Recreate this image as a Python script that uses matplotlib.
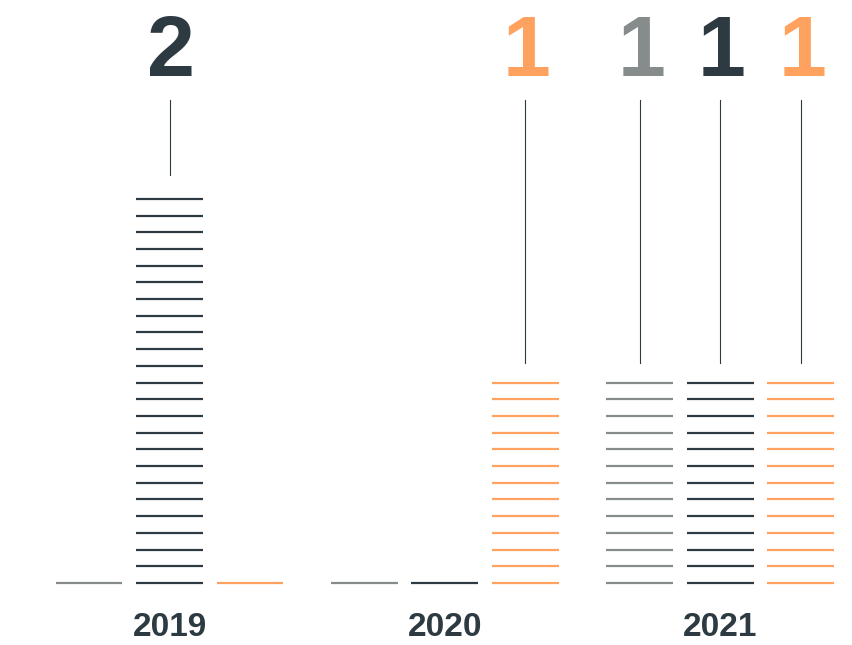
import matplotlib
matplotlib.use("Agg")
import matplotlib.pyplot as plt

# Data
years = ["2019", "2020", "2021"]
series_names = ["Grey", "Dark", "Orange"]
series_colors = ["#868b8c", "#2e3a41", "#ffa15f"]
values = {
    "Grey":   [0, 0, 1],
    "Dark":   [2, 0, 1],
    "Orange": [0, 1, 1],
}

# Geometry (in axis units)
group_step = 3.42
bar_step = 1.0
bar_width = 0.83
rung = 1 / 11.25          # spacing between stacked rungs
base = -0.0756            # baseline rung position
leader_gap = 1.05 * rung
leader_top = 2.495
label_y = 2.621
year_y = -0.3576

fig = plt.figure(figsize=(8.53, 6.45), dpi=100)
ax = fig.add_axes([0, 0, 1, 1])
ax.set_xlim(-2.106, 8.491)
ax.set_ylim(-0.4055, 3.027)
ax.axis("off")

font = "Liberation Sans"

for gi, year in enumerate(years):
    gx = gi * group_step
    for si, name in enumerate(series_names):
        v = values[name][gi]
        color = series_colors[si]
        cx = gx + (si - 1) * bar_step
        # stacked horizontal rungs up to the value
        i = 0
        while base + i * rung <= v + 1e-9:
            y = base + i * rung
            ax.plot([cx - bar_width / 2, cx + bar_width / 2], [y, y],
                    color=color, lw=1.6, solid_capstyle="butt")
            i += 1
        if v > 0:
            ax.plot([cx, cx], [v + leader_gap, leader_top],
                    color="#2e3a41", lw=0.8)
            ax.text(cx + 0.02, label_y, f"{v}", color=color, fontsize=62,
                    fontweight="bold", family=font, ha="center", va="baseline")
    ax.text(gx, year_y, year, color="#2e3a41", fontsize=24,
            fontweight="bold", family=font, ha="center", va="baseline")

fig.savefig("out.png", dpi=100)
